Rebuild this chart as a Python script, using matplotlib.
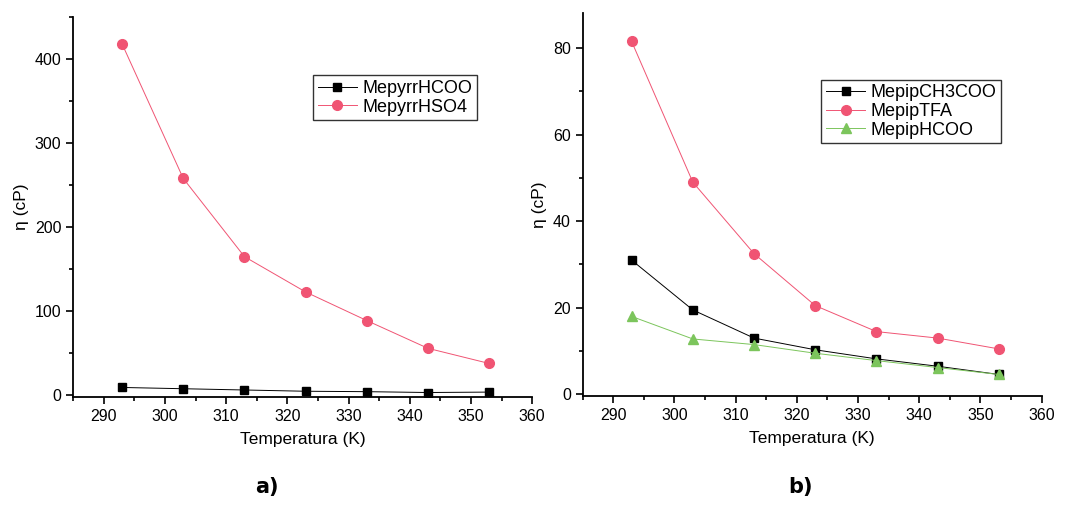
import matplotlib
matplotlib.use("Agg")
import matplotlib.pyplot as plt
from matplotlib.ticker import MultipleLocator

plt.rcParams['font.family'] = ['Liberation Sans', 'DejaVu Sans']

temps = [293, 303, 313, 323, 333, 343, 353]

# panel a
mepyrr_hcoo = [9.5, 8.0, 6.5, 5.0, 4.5, 3.5, 4.0]
mepyrr_hso4 = [418, 258, 165, 123, 89, 56, 38]

# panel b
mepip_ch3coo = [31.0, 19.5, 13.0, 10.3, 8.2, 6.5, 4.6]
mepip_tfa = [81.5, 49.0, 32.5, 20.5, 14.5, 13.0, 10.5]
mepip_hcoo = [18.0, 12.8, 11.5, 9.5, 7.8, 6.2, 4.6]

RED = '#f05473'
GREEN = '#7cc55c'


def style_axes(ax, ymax, ymaj, ymin_step):
    ax.set_xlim(285, 360)
    ax.set_ylim(-ymax * 0.004, ymax)
    ax.spines['top'].set_visible(False)
    ax.spines['right'].set_visible(False)
    for side in ('left', 'bottom'):
        ax.spines[side].set_linewidth(1.3)
    ax.xaxis.set_major_locator(MultipleLocator(10))
    ax.xaxis.set_minor_locator(MultipleLocator(5))
    ax.yaxis.set_major_locator(MultipleLocator(ymaj))
    ax.yaxis.set_minor_locator(MultipleLocator(ymin_step))
    ax.tick_params(which='major', direction='out', length=5, width=1.2, labelsize=11.5)
    ax.tick_params(which='minor', direction='out', length=3, width=1.2)
    ax.set_xlabel('Temperatura (K)', fontsize=12.5, labelpad=6)
    ax.set_ylabel('η (cP)', fontsize=12.5)


def add_legend(ax, anchor):
    leg = ax.legend(loc='upper left', bbox_to_anchor=anchor, fontsize=13, frameon=True,
                    fancybox=False, edgecolor='black', handlelength=2.2, borderpad=0.25,
                    labelspacing=0.1, handletextpad=0.3)
    leg.get_frame().set_linewidth(1.0)


fig = plt.figure(figsize=(10.75, 5.3), dpi=100)
ax1 = fig.add_axes([0.068, 0.251, 0.427, 0.717])
ax2 = fig.add_axes([0.542, 0.253, 0.427, 0.722])

ax1.plot(temps, mepyrr_hcoo, color='black', lw=0.7, marker='s', ms=6, label='MepyrrHCOO')
ax1.plot(temps, mepyrr_hso4, color=RED, lw=0.7, marker='o', ms=7, label='MepyrrHSO4')
style_axes(ax1, 450, 100, 50)
add_legend(ax1, (0.503, 0.87))

ax2.plot(temps, mepip_ch3coo, color='black', lw=0.7, marker='s', ms=6, label='MepipCH3COO')
ax2.plot(temps, mepip_tfa, color=RED, lw=0.7, marker='o', ms=7, label='MepipTFA')
ax2.plot(temps, mepip_hcoo, color=GREEN, lw=0.7, marker='^', ms=7, label='MepipHCOO')
style_axes(ax2, 88, 20, 10)
add_legend(ax2, (0.5, 0.85))

fig.text(0.248, 0.07, 'a)', fontsize=15, fontweight='bold', family='DejaVu Sans', ha='center')
fig.text(0.745, 0.07, 'b)', fontsize=15, fontweight='bold', family='DejaVu Sans', ha='center')

fig.savefig('out.png', dpi=100)
